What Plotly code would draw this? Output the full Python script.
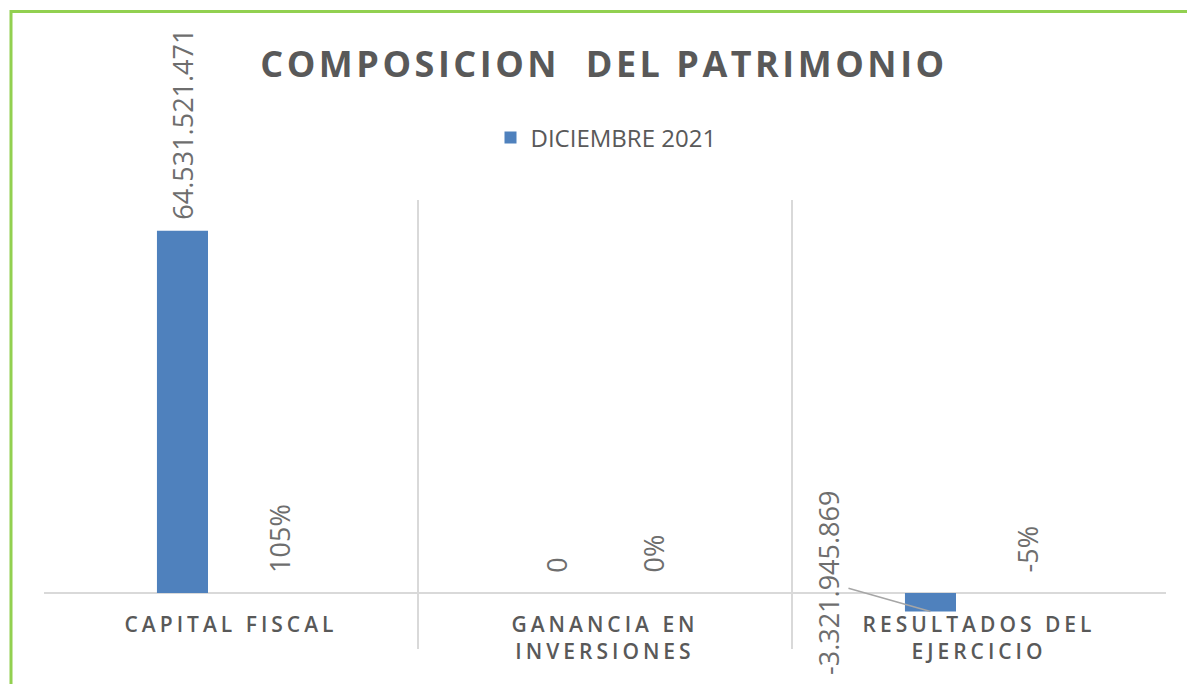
import textwrap
import plotly.graph_objects as go

# Patrimonio por componente, cierre diciembre 2021
categories = ["CAPITAL FISCAL", "GANANCIA EN INVERSIONES", "RESULTADOS DEL EJERCICIO"]
values_dic2021 = [64531521471, 0, -3321945869]
share_pct = [1.05, 0.0, -0.05]
series_name = "DICIEMBRE 2021"
title_text = "COMPOSICION\u00a0 DEL PATRIMONIO"

# Figure geometry
W, H = 1187, 684
M_L, M_R, M_T, M_B = 44, 21, 200, 35
Y_RANGE = [-1e10, 7e10]
BARGAP = 0.481
BARGROUPGAP = 0.474

BLUE = "#4F81BD"
RED = "#C0504D"
GRID = "#D9D9D9"
DARK = "#595959"
LABEL = "#6E6E6E"
GREEN = "#92D050"
FONT = "Open Sans"

plot_w = W - M_L - M_R
plot_h = H - M_T - M_B


def px_x(p):
    return (p - M_L) / plot_w


def px_y(p):
    return (H - M_B - p) / plot_h


def spaced(text, ls):
    return "<br>".join(
        f'<span style="letter-spacing:{ls}px">{line}</span>' for line in text.split("<br>")
    )


def fmt_num(v):
    return f"{v:,.0f}".replace(",", ".")


def fmt_pct(v):
    return f"{v * 100:.0f}%"


tick_text = [spaced("<br>".join(textwrap.wrap(c, 14)), 4) for c in categories]

# centre offsets of the two bars inside each category group
slot = (1 - BARGAP) / 2
offsets = [-(1 - BARGAP) / 2 + slot * (k + 0.5) for k in range(2)]

fig = go.Figure()
fig.add_trace(go.Bar(
    x=categories, y=values_dic2021, name=series_name,
    marker=dict(color=BLUE, line=dict(width=0)),
    hoverinfo="skip",
))
# share of total equity: plotted on the same axis, so the bars are negligible
fig.add_trace(go.Bar(
    x=categories, y=share_pct, name="%", showlegend=False,
    marker=dict(color=RED, line=dict(width=0)), opacity=0,
    hoverinfo="skip",
))

annotations = []
ymax = Y_RANGE[1]
for i, (v, p) in enumerate(zip(values_dic2021, share_pct)):
    for k, (val, txt) in enumerate([(v, fmt_num(v)), (p, fmt_pct(p))]):
        xpos = i + offsets[k]
        font = dict(family=FONT, size=27, color=LABEL)
        if k == 0 and val < 0:
            # label pulled out to the left with a leader line to the bar
            annotations.append(dict(
                x=xpos, y=val, xref="x", yref="y", text=txt, textangle=-90,
                font=font, showarrow=True, arrowhead=0, arrowwidth=1.5,
                arrowcolor="#A6A6A6", ax=-102, ay=-29, standoff=0,
            ))
            continue
        big = val > 0.05 * ymax
        annotations.append(dict(
            x=xpos, y=max(val, 0), xref="x", yref="y", text=txt, textangle=-90,
            font=font, showarrow=False, xanchor="center", yanchor="bottom",
            yshift=9 if big else 18,
        ))

shapes = [dict(
    type="rect", xref="paper", yref="paper",
    x0=px_x(11), x1=px_x(W + 10), y0=px_y(11.5), y1=px_y(H + 10),
    line=dict(color=GREEN, width=3), fillcolor="rgba(0,0,0,0)", layer="above",
)]

fig.update_layout(
    width=W, height=H,
    margin=dict(l=M_L, r=M_R, t=M_T, b=M_B),
    paper_bgcolor="white", plot_bgcolor="white",
    barmode="group", bargap=BARGAP, bargroupgap=BARGROUPGAP,
    title=dict(
        text=spaced(title_text, 3.5), x=px_x(604), xref="paper", xanchor="center",
        y=1 - 64 / H, yref="container", yanchor="middle",
        font=dict(family=FONT, size=36, color=DARK, weight=700),
    ),
    legend=dict(
        orientation="h", x=px_x(606), xanchor="center", y=px_y(138), yanchor="middle",
        font=dict(family=FONT, size=24, color=DARK), itemclick=False,
        bgcolor="rgba(0,0,0,0)",
    ),
    xaxis=dict(
        type="category", range=[-0.5, len(categories) - 0.5],
        tickson="boundaries", ticks="", showgrid=True, gridcolor=GRID, gridwidth=2,
        showline=False, zeroline=False,
        tickmode="array", tickvals=categories, ticktext=tick_text,
        tickfont=dict(family=FONT, size=21, color=DARK, weight=600),
        ticklabelstandoff=17,
        anchor="free", position=(0 - Y_RANGE[0]) / (Y_RANGE[1] - Y_RANGE[0]),
        fixedrange=True,
    ),
    yaxis=dict(
        range=Y_RANGE, showgrid=False, showticklabels=False, ticks="",
        zeroline=True, zerolinecolor=GRID, zerolinewidth=2, showline=False,
        fixedrange=True,
    ),
    annotations=annotations,
    shapes=shapes,
    showlegend=True,
)

fig.write_html("out.html", config={"displayModeBar": False})
